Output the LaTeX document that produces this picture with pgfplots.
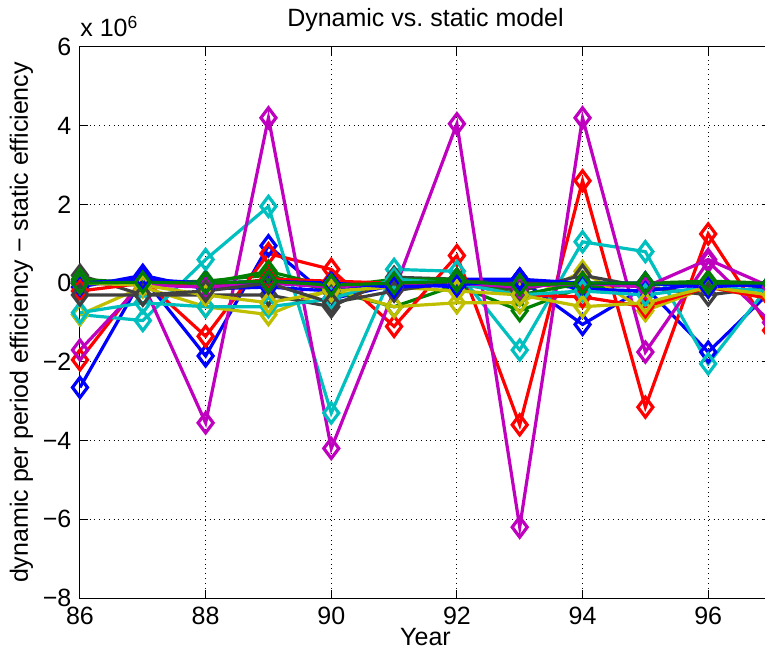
\documentclass[border=0pt]{standalone}
\usepackage{fontspec}
\setmainfont{Liberation Sans}
\usepackage{pgfplots}
\usepackage{pgfplotstable}
\pgfplotsset{compat=1.18}
\definecolor{mblue}{rgb}{0,0,1}
\definecolor{mgreen}{rgb}{0,0.5,0}
\definecolor{mred}{rgb}{1,0,0}
\definecolor{mcyan}{rgb}{0,0.75,0.75}
\definecolor{mmag}{rgb}{0.75,0,0.75}
\definecolor{myel}{rgb}{0.75,0.75,0}
\definecolor{mgray}{rgb}{0.25,0.25,0.25}
\pgfplotstableread{
x  s1    s2    s3    s4    s5    s6    s7    s8    s9    s10   s11   s12   s13   s14   s15   s16
86 -2.65 0.05  -1.95 -0.80 -1.70 -0.80 0.20  -0.10 0.10  -0.20 -0.75 0.00  0.00  -0.30 0.00  0.00
87 0.15  0.00  0.10  -0.95 0.00  -0.10 -0.30 0.20  0.00  0.00  -0.50 -0.05 -0.05 -0.30 0.10  0.02
88 -1.85 0.05  -1.35 0.60  -3.55 -0.60 -0.30 -0.15 0.00  -0.10 -0.60 -0.10 -0.30 -0.20 0.00  0.00
89 0.95  0.20  0.75  1.95  4.20  -0.80 -0.30 -0.10 0.30  0.10  -0.60 0.00  -0.50 0.00  0.05  0.05
90 -0.40 -0.20 0.35  -3.30 -4.20 -0.15 -0.60 -0.20 -0.10 0.05  -0.40 -0.10 -0.20 -0.50 0.00  -0.05
91 -0.05 -0.60 -1.10 0.35  -0.20 -0.60 0.15  0.00  0.10  0.00  0.10  0.00  -0.10 -0.20 -0.10 0.00
92 0.10  -0.05 0.70  0.30  4.05  -0.50 0.10  -0.10 0.10  0.00  0.00  0.00  -0.20 0.05  -0.05 0.05
93 0.10  -0.70 -3.60 -1.70 -6.20 -0.50 -0.20 0.10  -0.30 -0.30 -0.30 -0.10 -0.30 0.00  0.10  -0.05
94 -1.05 -0.10 2.60  1.05  4.20  0.30  0.20  -0.15 0.00  -0.35 -0.20 0.00  -0.60 0.00  0.00  0.00
95 -0.10 -0.05 -3.15 0.80  -1.75 -0.70 -0.10 -0.20 0.00  -0.60 -0.30 -0.10 -0.50 0.00  0.00  0.00
96 -1.75 0.00  1.25  -2.05 0.55  -0.10 -0.30 0.00  0.05  -0.10 -0.10 0.60  -0.10 0.00  -0.10 0.00
97 -0.20 -0.10 -1.20 0.00  -1.00 -0.40 -0.10 -0.10 0.00  -0.40 -0.20 -0.10 -0.30 0.00  0.00  0.00
}\data
\begin{document}
\fontsize{12.5}{15}\selectfont
\begin{tikzpicture}
\useasboundingbox (-40pt,-28.5pt) rectangle (342.5pt,299pt);
\clip (-40pt,-28.5pt) rectangle (342.5pt,299pt);
\begin{axis}[
  at={(0,0)}, anchor=south west,
  scale only axis, width=345.5pt, height=275.5pt,
  xmin=86, xmax=97, ymin=-8, ymax=6,
  xtick={86,88,...,96}, ytick={-8,-6,...,6},
  yticklabels={−8,−6,−4,−2,0,2,4,6},
  grid=major, grid style={black, dotted, line width=0.5pt},
  tick align=inside, major tick length=4pt,
  axis line style={black, line width=0.5pt},
  tick style={black, line width=0.5pt},
  ticklabel style={font=\fontsize{12.5}{15}\selectfont},
  /pgf/number format/assume math mode=true,
  xlabel={Year},
  xlabel style={at={(axis description cs:0.5,0)}, anchor=base, yshift=-23.5pt, inner sep=0pt},
  ylabel={dynamic per period efficiency − static efficiency},
  ylabel style={at={(axis description cs:-0.0753,0.5)}, anchor=base, rotate=0, inner sep=0pt},
  every axis plot/.append style={line width=1.6pt, mark=diamond, mark size=5pt, mark options={solid, line width=1.6pt}},
  extra description/.code={
    \node[anchor=base west, inner sep=0pt] at (axis description cs:0,1) [yshift=5pt] {x 10\textsuperscript{6}};
    \node[anchor=base, inner sep=0pt] at (axis description cs:0.5,1) [yshift=10pt] {Dynamic vs.\ static model};
  },
]
\addplot[mblue]  table[x=x,y=s1]{\data};
\addplot[mgreen] table[x=x,y=s2]{\data};
\addplot[mred]   table[x=x,y=s3]{\data};
\addplot[mcyan]  table[x=x,y=s4]{\data};
\addplot[mmag]   table[x=x,y=s5]{\data};
\addplot[myel]   table[x=x,y=s6]{\data};
\addplot[mgray]  table[x=x,y=s7]{\data};
\addplot[mblue]  table[x=x,y=s8]{\data};
\addplot[mgreen] table[x=x,y=s9]{\data};
\addplot[mred]   table[x=x,y=s10]{\data};
\addplot[mcyan]  table[x=x,y=s11]{\data};
\addplot[mmag]   table[x=x,y=s12]{\data};
\addplot[myel]   table[x=x,y=s13]{\data};
\addplot[mgray]  table[x=x,y=s14]{\data};
\addplot[mblue]  table[x=x,y=s15]{\data};
\addplot[mgreen] table[x=x,y=s16]{\data};
\end{axis}
\end{tikzpicture}
\end{document}
